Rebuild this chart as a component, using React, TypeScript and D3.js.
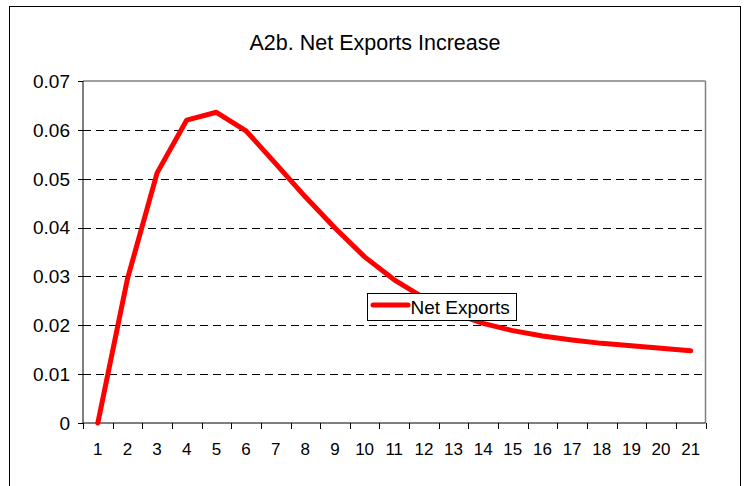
import React from "react";
import * as d3 from "d3";

// Periods on the horizontal axis
const periods: number[] = Array.from({ length: 21 }, (_, i) => i + 1);

// Net exports response by period
const netExports: number[] = [
  0, 0.0295, 0.0512, 0.062, 0.0636, 0.0598, 0.0531, 0.0463, 0.0399, 0.034,
  0.0293, 0.0256, 0.0225, 0.0204, 0.0189, 0.0178, 0.017, 0.0163, 0.0158,
  0.0153, 0.0148,
];

const yTicks: number[] = [0, 0.01, 0.02, 0.03, 0.04, 0.05, 0.06, 0.07];
const yTickLabels: string[] = ["0", "0.01", "0.02", "0.03", "0.04", "0.05", "0.06", "0.07"];

const chartTitle = "A2b. Net Exports Increase";
const seriesName = "Net Exports";

const W = 749;
const H = 486;
const plot = { left: 83, right: 705.5, top: 81, bottom: 423 };
const FONT = "'Liberation Sans', Arial, sans-serif";

export default function App() {
  const x = d3
    .scaleBand<number>()
    .domain(periods)
    .range([plot.left, plot.right])
    .paddingInner(0)
    .paddingOuter(0);
  const y = d3.scaleLinear().domain([0, 0.07]).range([plot.bottom, plot.top]);
  const cx = (p: number) => (x(p) as number) + x.bandwidth() / 2;

  const line = d3
    .line<number>()
    .x((_, i) => cx(periods[i]))
    .y((d) => y(d));

  const boundaries = periods.map((p) => x(p) as number).concat([plot.right]);

  return (
    <svg
      width={W}
      height={H}
      style={{ position: "absolute", left: 0, top: 0, background: "#fff" }}
      fontFamily={FONT}
    >
      {/* chart area border */}
      <rect x={9.5} y={6.5} width={731} height={490} fill="#fff" stroke="#000" strokeWidth={1} />

      <text x={375} y={49.5} textAnchor="middle" fontSize={21.5} fill="#000">
        {chartTitle}
      </text>

      {/* dashed gridlines */}
      {yTicks
        .filter((t) => t > 0 && t < 0.07)
        .map((t) => (
          <line
            key={"g" + t}
            x1={plot.left}
            x2={plot.right}
            y1={Math.round(y(t)) + 0.5}
            y2={Math.round(y(t)) + 0.5}
            stroke="#000"
            strokeWidth={1}
            strokeDasharray="8 5"
          />
        ))}

      {/* plot frame: top and right in gray */}
      <line x1={plot.left} x2={plot.right} y1={plot.top} y2={plot.top} stroke="#808080" strokeWidth={1.5} />
      <line x1={plot.right} x2={plot.right} y1={plot.top} y2={plot.bottom} stroke="#808080" strokeWidth={1.5} />

      {/* y axis */}
      <line x1={plot.left} x2={plot.left} y1={plot.top} y2={plot.bottom} stroke="#000" strokeWidth={1} />
      {yTicks.map((t, i) => (
        <g key={"y" + t}>
          <line
            x1={plot.left - 5}
            x2={plot.left}
            y1={Math.round(y(t)) + 0.5}
            y2={Math.round(y(t)) + 0.5}
            stroke="#000"
          />
          <text x={70} y={y(t) + 6.8} textAnchor="end" fontSize={19} fill="#000">
            {yTickLabels[i]}
          </text>
        </g>
      ))}

      {/* x axis */}
      <line x1={plot.left} x2={plot.right} y1={plot.bottom} y2={plot.bottom} stroke="#000" strokeWidth={1} />
      {boundaries.map((b, i) => (
        <line
          key={"xt" + i}
          x1={Math.round(b) + 0.5}
          x2={Math.round(b) + 0.5}
          y1={plot.bottom}
          y2={plot.bottom + 6}
          stroke="#000"
        />
      ))}
      {periods.map((p) => (
        <text key={"xl" + p} x={cx(p)} y={455} textAnchor="middle" fontSize={17} fill="#000">
          {p}
        </text>
      ))}

      {/* series */}
      <path
        d={line(netExports) || ""}
        fill="none"
        stroke="#ff0000"
        strokeWidth={5}
        strokeLinejoin="round"
        strokeLinecap="round"
      />

      {/* legend */}
      <rect x={367.5} y={293.5} width={149} height={27} fill="#fff" stroke="#000" strokeWidth={1} />
      <line x1={373} x2={408} y1={305} y2={305} stroke="#ff0000" strokeWidth={5} strokeLinecap="round" />
      <text x={410.5} y={314.3} fontSize={19} fill="#000">
        {seriesName}
      </text>
    </svg>
  );
}
